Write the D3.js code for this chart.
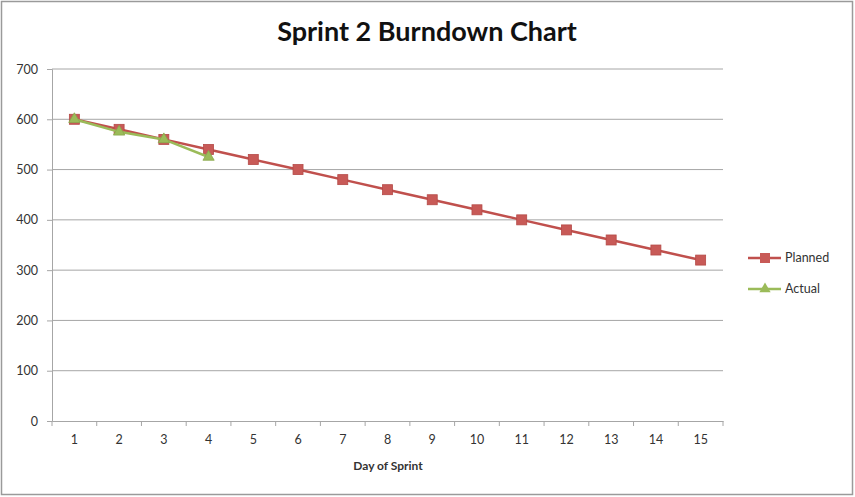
<!DOCTYPE html>
<html>
<head>
<meta charset="utf-8">
<script src="https://cdn.jsdelivr.net/npm/d3@7"></script>
<style>
  body { margin: 0; background: #fff; }
  text { font-family: Lato, "Open Sans", sans-serif; }
</style>
</head>
<body>
<script>
let days = [1, 2, 3, 4, 5, 6, 7, 8, 9, 10, 11, 12, 13, 14, 15];
let planned = [600, 580, 560, 540, 520, 500, 480, 460, 440, 420, 400, 380, 360, 340, 320];
let actual = [600, 575, 560, 525];
let yTicks = [0, 100, 200, 300, 400, 500, 600, 700];

let svgWidth = 855,
    svgHeight = 497,
    plot = { left: 52, right: 723, top: 69, bottom: 421 };

let svg = d3.select("body").append("svg")
    .attr("width", svgWidth)
    .attr("height", svgHeight);

// outer frame
svg.append("rect")
    .attr("x", 1.5).attr("y", 1.5)
    .attr("width", svgWidth - 4).attr("height", svgHeight - 4)
    .attr("fill", "#fff").attr("stroke", "#9a9a9a").attr("stroke-width", 1.5);

let x = d3.scaleBand().domain(days).range([plot.left, plot.right]);
let y = d3.scaleLinear().domain([0, 700]).range([plot.bottom, plot.top]);

// gridlines
svg.append("g").selectAll("line")
    .data(yTicks.filter(d => d > 0))
    .join("line")
    .attr("x1", plot.left).attr("x2", plot.right)
    .attr("y1", d => y(d)).attr("y2", d => y(d))
    .attr("stroke", "#a6a6a6").attr("stroke-width", 1);

// y axis
let yAxis = svg.append("g")
    .attr("transform", "translate(" + plot.left + ",0)")
    .call(d3.axisLeft(y).tickValues(yTicks).tickSize(5).tickPadding(9));
yAxis.select(".domain").attr("stroke", "#a6a6a6");
yAxis.selectAll(".tick line").attr("stroke", "#a6a6a6");
yAxis.selectAll("text").attr("fill", "#333").style("font-size", "12.5px");

// x axis, ticks between categories
let xAxis = svg.append("g")
    .attr("transform", "translate(0," + plot.bottom + ")")
    .call(d3.axisBottom(x).tickSize(0).tickPadding(14));
xAxis.select(".domain").attr("stroke", "#a6a6a6");
xAxis.selectAll("text").attr("fill", "#333").style("font-size", "12.5px");
svg.append("g").selectAll("line")
    .data(days.concat([16]))
    .join("line")
    .attr("x1", (d, i) => plot.left + i * x.bandwidth())
    .attr("x2", (d, i) => plot.left + i * x.bandwidth())
    .attr("y1", plot.bottom).attr("y2", plot.bottom + 5)
    .attr("stroke", "#a6a6a6");

let cx = d => x(d) + x.bandwidth() / 2;

// planned
let pRed = "#c0504d";
svg.append("path")
    .datum(planned)
    .attr("fill", "none").attr("stroke", pRed).attr("stroke-width", 2.5)
    .attr("d", d3.line().x((d, i) => cx(days[i])).y(d => y(d)));
svg.append("g").selectAll("rect")
    .data(planned)
    .join("rect")
    .attr("x", (d, i) => cx(days[i]) - 5).attr("y", d => y(d) - 5)
    .attr("width", 10).attr("height", 10)
    .attr("fill", "#c85a57").attr("stroke", "#b54a47").attr("stroke-width", 0.8);

// actual
let aGreen = "#9bbb59";
svg.append("path")
    .datum(actual)
    .attr("fill", "none").attr("stroke", aGreen).attr("stroke-width", 2.5)
    .attr("d", d3.line().x((d, i) => cx(days[i])).y(d => y(d)));
let tri = d3.symbol().type(d3.symbolTriangle).size(55);
svg.append("g").selectAll("path")
    .data(actual)
    .join("path")
    .attr("d", tri)
    .attr("transform", (d, i) => "translate(" + cx(days[i]) + "," + y(d) + ")")
    .attr("fill", aGreen).attr("stroke", "#8aa84c").attr("stroke-width", 0.8);

// title
svg.append("text")
    .attr("x", 427).attr("y", 41)
    .attr("text-anchor", "middle")
    .style("font-size", "27px").style("font-weight", "bold")
    .attr("fill", "#111")
    .text("Sprint 2 Burndown Chart");

// x axis title
svg.append("text")
    .attr("x", 388).attr("y", 470)
    .attr("text-anchor", "middle")
    .style("font-size", "12px").style("font-weight", "bold")
    .attr("fill", "#333")
    .text("Day of Sprint");

// legend
let legend = svg.append("g");
legend.append("line").attr("x1", 748).attr("x2", 781).attr("y1", 258).attr("y2", 258)
    .attr("stroke", pRed).attr("stroke-width", 2.5);
legend.append("rect").attr("x", 760).attr("y", 253).attr("width", 10).attr("height", 10)
    .attr("fill", "#c85a57");
legend.append("text").attr("x", 785).attr("y", 262).style("font-size", "12.5px").attr("fill", "#333").text("Planned");
legend.append("line").attr("x1", 748).attr("x2", 781).attr("y1", 289).attr("y2", 289)
    .attr("stroke", aGreen).attr("stroke-width", 2.5);
legend.append("path").attr("d", tri).attr("transform", "translate(765,289)").attr("fill", aGreen);
legend.append("text").attr("x", 785).attr("y", 293).style("font-size", "12.5px").attr("fill", "#333").text("Actual");
</script>
</body>
</html>
